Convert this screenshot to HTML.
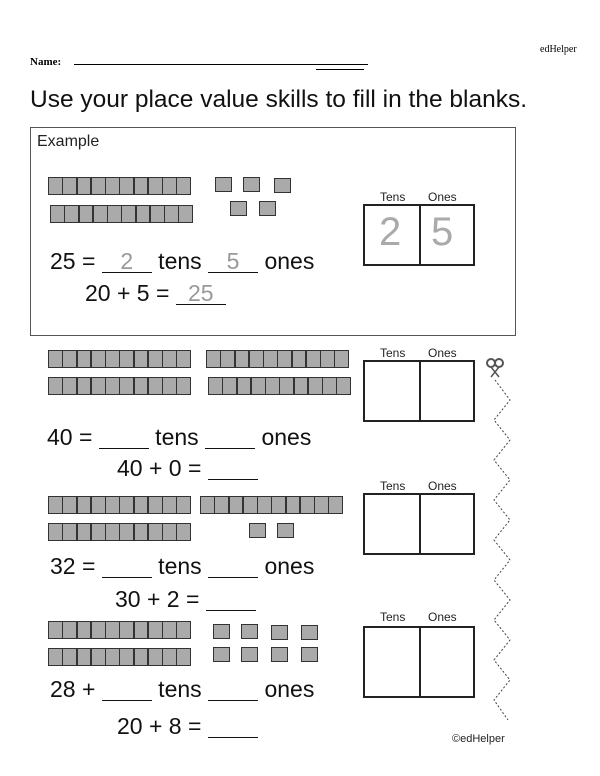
<!DOCTYPE html>
<html><head><style>
body{margin:0;width:600px;height:776px;background:#fff;position:relative;font-family:"Liberation Sans",sans-serif;overflow:hidden}
.a{position:absolute;white-space:nowrap}
.rod{position:absolute;height:16px;display:flex;border:1.5px solid #333;background:#333;gap:1.5px}
.rod i{flex:1;background:#aaa}
.u{position:absolute;width:15px;height:13px;background:#aaa;border:1.5px solid #333}
.tb{position:absolute;border:2px solid #222}
.tb:after{content:"";position:absolute;left:50%;top:0;bottom:0;border-left:2px solid #222}
.lab{position:absolute;font-size:12px;color:#222}
.eq{position:absolute;font-size:23px;color:#111;white-space:nowrap}
.bl{display:inline-block;border-bottom:1.5px solid #111;text-align:center;color:#999;line-height:22px}
</style></head><body>
<div class="a" style="left:540px;top:44px;font:10px 'Liberation Serif',serif">edHelper</div>
<div class="a" style="left:30px;top:56px;font:bold 11px 'Liberation Serif',serif">Name:</div>
<div class="a" style="left:74px;top:64px;width:294px;border-top:1px solid #000"></div>
<div class="a" style="left:316px;top:69px;width:48px;border-top:1px solid #000"></div>
<div class="a" style="left:30px;top:86px;font-size:24.5px;color:#111">Use your place value skills to fill in the blanks.</div>
<div class="a" style="left:30px;top:127px;width:484px;height:207px;border:1px solid #555"></div>
<div class="a" style="left:37px;top:133px;font-size:16px;color:#222">Example</div>
<div class="tb" style="left:363px;top:204px;width:108px;height:58px"></div>
<div class="lab" style="left:380px;top:190px">Tens</div><div class="lab" style="left:428px;top:190px">Ones</div>
<div class="a" style="left:379px;top:210px;font-size:40px;color:#aaa">2</div>
<div class="a" style="left:431px;top:210px;font-size:40px;color:#aaa">5</div>
<div class="eq" style="left:50px;top:248px">25 = <span class="bl" style="width:50px">2</span> tens <span class="bl" style="width:50px">5</span> ones</div>
<div class="eq" style="left:85px;top:280px">20 + 5 = <span class="bl" style="width:50px">25</span></div>

<div class="tb" style="left:363px;top:360px;width:108px;height:58px"></div>
<div class="lab" style="left:380px;top:346px">Tens</div><div class="lab" style="left:428px;top:346px">Ones</div>
<div class="eq" style="left:47px;top:424px">40 = <span class="bl" style="width:50px">&nbsp;</span> tens <span class="bl" style="width:50px">&nbsp;</span> ones</div>
<div class="eq" style="left:117px;top:455px">40 + 0 = <span class="bl" style="width:50px">&nbsp;</span></div>

<div class="tb" style="left:363px;top:493px;width:108px;height:58px"></div>
<div class="lab" style="left:380px;top:479px">Tens</div><div class="lab" style="left:428px;top:479px">Ones</div>
<div class="eq" style="left:50px;top:553px">32 = <span class="bl" style="width:50px">&nbsp;</span> tens <span class="bl" style="width:50px">&nbsp;</span> ones</div>
<div class="eq" style="left:115px;top:586px">30 + 2 = <span class="bl" style="width:50px">&nbsp;</span></div>

<div class="tb" style="left:363px;top:626px;width:108px;height:68px"></div>
<div class="lab" style="left:380px;top:610px">Tens</div><div class="lab" style="left:428px;top:610px">Ones</div>
<div class="eq" style="left:50px;top:676px">28 + <span class="bl" style="width:50px">&nbsp;</span> tens <span class="bl" style="width:50px">&nbsp;</span> ones</div>
<div class="eq" style="left:117px;top:713px">20 + 8 = <span class="bl" style="width:50px">&nbsp;</span></div>

<div class="a" style="left:452px;top:733px;font-size:11px;color:#222">©edHelper</div>
<svg class="a" style="left:480px;top:355px" width="40" height="380">
<circle cx="11" cy="8" r="4" fill="none" stroke="#555" stroke-width="2"/><circle cx="19" cy="8" r="4" fill="none" stroke="#555" stroke-width="2"/>
<path d="M11 12 L19 22 M19 12 L11 22" stroke="#555" stroke-width="1.5"/>
<polyline fill="none" stroke="#444" stroke-width="1" stroke-dasharray="2,2" points="15,25 30,45 14,65 30,85 14,105 30,125 14,145 30,165 14,185 30,205 14,225 30,245 14,265 30,285 14,305 30,325 14,345 28,365"/>
</svg>
<script>
function rod(x,y){var d=document.createElement('div');d.className='rod';d.style.left=x+'px';d.style.top=y+'px';d.style.width='141px';for(var i=0;i<10;i++)d.appendChild(document.createElement('i'));document.body.appendChild(d);}
function u(x,y){var d=document.createElement('div');d.className='u';d.style.left=x+'px';d.style.top=y+'px';document.body.appendChild(d);}
rod(48,177);rod(50,205);u(215,177);u(243,177);u(274,178);u(230,201);u(259,201);
rod(48,350);rod(206,350);rod(48,377);rod(208,377);
rod(48,496);rod(200,496);rod(48,523);u(249,523);u(277,523);
rod(48,621);rod(48,648);u(213,624);u(241,624);u(271,625);u(301,625);u(213,647);u(241,647);u(271,647);u(301,647);
</script>
</body></html>
